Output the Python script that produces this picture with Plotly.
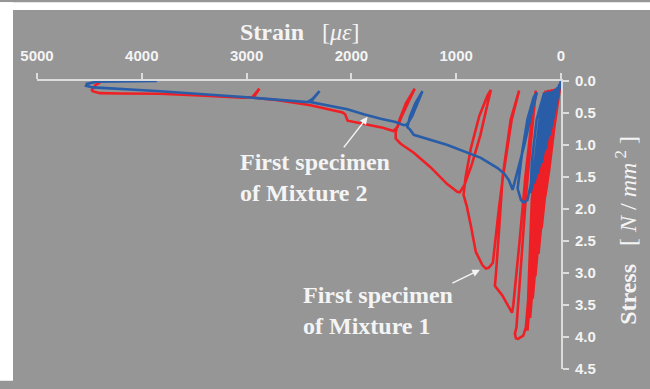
import plotly.graph_objects as go

# Mixture 1, first specimen: cyclic compression path (strain in micro-strain, stress in N/mm2)
RED_STRAIN = [0, 62, 111, 150,
              143, 120, 70, 40,
              95, 150, 175, 185,
              178, 150, 85, 55,
              115, 170, 205, 215,
              207, 180, 100, 70,
              135, 195, 232, 245,
              237, 208, 120, 85,
              155, 218, 258, 270,
              262, 232, 140, 100,
              175, 240, 282, 295,
              287, 255, 165, 120,
              195, 262, 308, 320,
              312, 278, 190, 145,
              215, 285, 335, 360, 410, 430, 440,
              425, 400, 382, 335, 290, 260, 240,
              275, 340, 395, 435, 455, 468,
              500, 560, 631,
              621, 590, 557, 480, 400,
              470, 554, 593, 650, 690, 717,
              749, 813, 860, 900, 930,
              910, 860, 780, 700, 669,
              700, 770, 850, 920, 966,
              990, 1086, 1243, 1405, 1530, 1577,
              1577, 1540, 1480, 1396,
              1450, 1520, 1560, 1600,
              1700, 1850, 2036, 2060, 2084, 2390, 2700, 2935,
              2878, 2945,
              3031, 3400, 3824, 4200, 4401,
              4470, 4477, 4440, 4398]
RED_STRESS = [0, 0.70, 1.37, 1.80,
              1.30, 0.80, 0.35, 0.12,
              0.90, 1.70, 2.15, 2.30,
              1.80, 1.05, 0.40, 0.12,
              1.00, 1.90, 2.50, 2.70,
              2.20, 1.25, 0.42, 0.13,
              1.10, 2.20, 2.85, 3.05,
              2.50, 1.40, 0.45, 0.13,
              1.20, 2.40, 3.20, 3.40,
              2.85, 1.55, 0.48, 0.14,
              1.30, 2.60, 3.50, 3.70,
              3.15, 1.70, 0.50, 0.14,
              1.40, 2.80, 3.75, 3.90,
              3.35, 1.85, 0.55, 0.15,
              1.50, 2.95, 3.85, 3.98, 4.03, 4.02, 3.95,
              3.85, 3.30, 2.83, 1.81, 1.00, 0.45, 0.15,
              0.55, 1.50, 2.50, 3.20, 3.50, 3.62,
              3.52, 3.35, 3.20,
              3.02, 2.30, 1.50, 0.60, 0.15,
              0.60, 1.50, 2.00, 2.84, 2.92, 2.93,
              2.88, 2.67, 2.26, 1.95, 1.78,
              1.50, 1.05, 0.55, 0.22, 0.14,
              0.35, 0.85, 1.30, 1.62, 1.74,
              1.73, 1.61, 1.35, 1.12, 0.98, 0.90,
              0.80, 0.60, 0.35, 0.12,
              0.30, 0.55, 0.72, 0.78,
              0.73, 0.68, 0.62, 0.52, 0.49, 0.38, 0.30, 0.26,
              0.12, 0.25,
              0.26, 0.23, 0.20, 0.195, 0.19,
              0.16, 0.14, 0.06, 0.026]

# Mixture 2, first specimen
BLUE_STRAIN = [0, 25, 50, 75,
               60, 40, 15,
               50, 90, 110,
               98, 75, 35,
               80, 125, 150,
               138, 110, 55,
               105, 160, 185,
               172, 140, 80,
               130, 190, 220,
               208, 170, 105,
               160, 222, 255,
               243, 200, 130,
               185, 250, 290,
               278, 232, 160,
               215, 280, 320, 357,
               382, 414,
               400, 370, 320, 260, 230,
               280, 350, 410, 445, 462,
               497, 540, 605, 765, 1083, 1243, 1405, 1440, 1466,
               1440, 1390, 1322,
               1370, 1420, 1470, 1500,
               1577, 1721, 1883, 2039, 2390,
               2330, 2304, 2370, 2420,
               3031, 3824, 4465,
               4531, 4525, 4429, 3856]
BLUE_STRESS = [0, 0.20, 0.40, 0.60,
               0.40, 0.20, 0.05,
               0.40, 0.70, 0.85,
               0.55, 0.30, 0.10,
               0.50, 0.90, 1.08,
               0.75, 0.40, 0.13,
               0.60, 1.05, 1.28,
               0.90, 0.45, 0.15,
               0.65, 1.20, 1.45,
               1.05, 0.50, 0.16,
               0.75, 1.35, 1.60,
               1.15, 0.55, 0.17,
               0.80, 1.45, 1.75,
               1.25, 0.60, 0.18,
               0.85, 1.55, 1.86, 1.90,
               1.86, 1.68,
               1.50, 1.10, 0.60, 0.25, 0.18,
               0.50, 1.00, 1.40, 1.62, 1.70,
               1.55, 1.45, 1.36, 1.20, 1.00, 0.92, 0.84, 0.76, 0.72,
               0.55, 0.35, 0.16,
               0.35, 0.55, 0.68, 0.69,
               0.64, 0.59, 0.52, 0.44, 0.33,
               0.20, 0.16, 0.28, 0.33,
               0.25, 0.16, 0.10,
               0.076, 0.045, 0.01, 0.0]

X_TICKS = [5000, 4000, 3000, 2000, 1000, 0]
Y_TICKS = [0.0, 0.5, 1.0, 1.5, 2.0, 2.5, 3.0, 3.5, 4.0, 4.5]

BG = "#969696"
AXIS = "#dcdcdc"
TXT = "#f4f4f4"
SERIF = "Liberation Serif"

fig = go.Figure()
fig.add_trace(go.Scatter(x=RED_STRAIN, y=RED_STRESS, mode="lines",
                         line=dict(color="#ee2026", width=2.6), showlegend=False))
fig.add_trace(go.Scatter(x=BLUE_STRAIN, y=BLUE_STRESS, mode="lines",
                         line=dict(color="#2a5da8", width=2.6), showlegend=False))

L, R, T, B = 37, 89, 81, 12
W, H = 650, 389
pw, ph = W - L - R, H - T - B


def px(xp):
    return (xp - L) / pw


def py(yp):
    return (H - B - yp) / ph


tick_font = dict(family="Liberation Sans", size=15, color=TXT, weight="bold")

fig.update_layout(
    width=W, height=H,
    margin=dict(l=L, r=R, t=T, b=B, pad=0),
    paper_bgcolor=BG, plot_bgcolor=BG,
    showlegend=False,
    xaxis=dict(range=[5000, 0], side="top", tickvals=X_TICKS,
               ticktext=[str(v) for v in X_TICKS],
               showgrid=False, zeroline=False, showline=True,
               linecolor=AXIS, linewidth=2, ticks="outside", ticklen=6,
               tickcolor=AXIS, tickwidth=1.5, ticklabelstandoff=6,
               tickfont=tick_font),
    yaxis=dict(range=[4.5, 0], side="right", tickvals=Y_TICKS,
               ticktext=[f"{v:.1f}" for v in Y_TICKS],
               showgrid=False, zeroline=False, showline=True,
               linecolor=AXIS, linewidth=2, ticks="outside", ticklen=6,
               tickcolor=AXIS, tickwidth=1.5, ticklabelstandoff=3,
               tickfont=tick_font),
    # white page border left and above the grey panel
    shapes=[
        dict(type="rect", xref="paper", yref="paper", x0=px(0), x1=px(13),
             y0=py(389), y1=py(0), fillcolor="white", line=dict(width=0), layer="below"),
        dict(type="rect", xref="paper", yref="paper", x0=px(0), x1=px(650),
             y0=py(8), y1=py(0), fillcolor="white", line=dict(width=0), layer="below"),
    ],
)

annotations = [
    dict(text="<b>Strain</b>&nbsp;&nbsp;&nbsp;[<i>με</i>]", xref="paper", yref="paper",
         x=px(300), y=py(31), showarrow=False, xanchor="center", yanchor="middle",
         font=dict(family=SERIF, size=24, color=TXT)),
    dict(text="<b>Stress</b>&nbsp;&nbsp;&nbsp;[&nbsp;<i>N</i>&nbsp;/&nbsp;<i>mm</i><sup>&nbsp;2</sup>&nbsp;]",
         xref="paper", yref="paper",
         x=px(626), y=py(235), showarrow=False, textangle=-90,
         xanchor="center", yanchor="middle",
         font=dict(family=SERIF, size=24, color=TXT)),
    dict(text="<b>First specimen<br>of Mixture 2</b>", xref="paper", yref="paper",
         x=px(238), y=py(180), showarrow=False, xanchor="left", yanchor="middle",
         align="left", font=dict(family=SERIF, size=24, color=TXT)),
    dict(text="<b>First specimen<br>of Mixture 1</b>", xref="paper", yref="paper",
         x=px(301), y=py(317), showarrow=False, xanchor="left", yanchor="middle",
         align="left", font=dict(family=SERIF, size=24, color=TXT)),
    # arrows pointing at the two curves
    dict(text="", x=1845, y=0.56, xref="x", yref="y", showarrow=True,
         ax=-25, ay=32, arrowhead=2, arrowsize=1, arrowwidth=1.5, arrowcolor=TXT),
    dict(text="", x=774, y=2.95, xref="x", yref="y", showarrow=True,
         ax=-29, ay=14, arrowhead=2, arrowsize=1, arrowwidth=1.5, arrowcolor=TXT),
]
fig.update_layout(annotations=annotations)

fig.write_html(
    "out.html",
    config={"displayModeBar": False},
    post_script="document.body.style.margin='0';document.body.style.overflow='hidden';",
)
